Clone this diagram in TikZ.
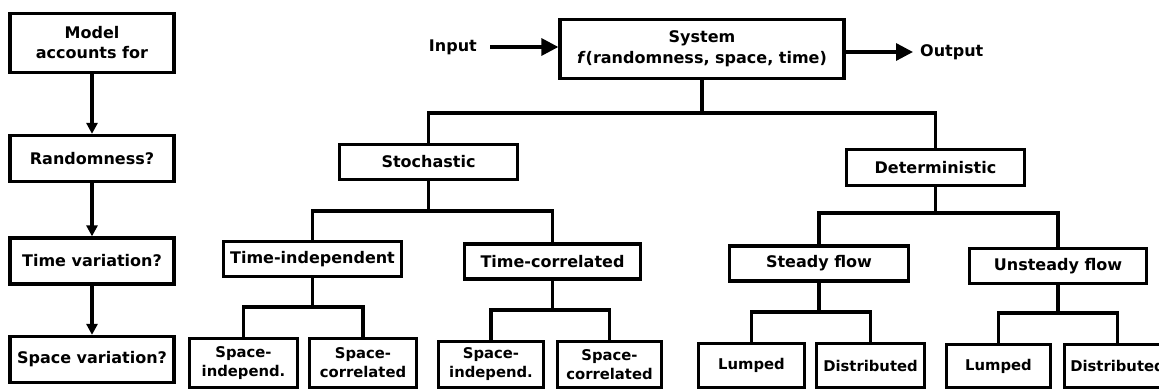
\documentclass[tikz,border=0pt]{standalone}
\usepackage{fontspec}
\setmainfont{DejaVu Sans}
\usetikzlibrary{arrows.meta}
\begin{document}
\begin{tikzpicture}[x=1pt,y=-1pt,
  txt/.style={font=\bfseries\fontsize{16}{20}\selectfont},
  small/.style={font=\bfseries\fontsize{14.8}{19}\selectfont},
  box/.style={draw, line width=3.3pt, align=center, inner sep=0pt, txt},
  sz/.style 2 args={minimum width=#1pt, minimum height=#2pt},
  lbl/.style={txt, inner sep=0pt},
  link/.style={line width=3.3pt},
  arr/.style={line width=3.3pt, -{Triangle[length=11pt,width=11pt]}},
  bigarr/.style={line width=3.3pt, -{Triangle[length=17pt,width=17pt]}},
]
\useasboundingbox (0,0) rectangle (1159,390);
\fill[white] (0,0) rectangle (1159,390);

% left column
\node[box,sz={164}{59}] (model) at (92,43) {Model\\accounts for};
\node[box,sz={164}{46}] (rand) at (92,158.5) {Randomness?};
\node[box,sz={164}{46}] (timev) at (92,261) {Time variation?};
\node[box,sz={164}{46}] (spacev) at (92,359.5) {Space variation?};
\draw[arr] (model.south) -- (rand.north);
\draw[arr] (rand.south) -- (timev.north);
\draw[arr] (timev.south) -- (spacev.north);

% system
\node[box,sz={284}{59},font=\bfseries\fontsize{16}{21}\selectfont] (sys) at (702,49) {System\\\textit{f}(randomness, space, time)};
\node[lbl,anchor=east] (inp) at (477,47) {Input};
\node[lbl,anchor=west] (outp) at (920,52) {Output};
\draw[bigarr] ([xshift=13pt]inp.east) -- (inp.east -| sys.west);
\draw[bigarr] (sys.east |- outp.west) -- ([xshift=-7pt]outp.west);

% level 1
\node[box,sz={178}{35}] (stoch) at (428.5,162) {Stochastic};
\node[box,sz={178}{36}] (determ) at (935.5,167.5) {Deterministic};
\coordinate (j1) at (702,113);
\draw[link] (sys.south) -- (j1);
\draw[link] (stoch.north) |- (j1) -| (determ.north);

% level 2
\node[box,sz={178}{35}] (timeind) at (312.5,259) {Time-independent};
\node[box,sz={176}{35}] (timecor) at (552.5,261.5) {Time-correlated};
\node[box,sz={179}{35}] (steady) at (819,263.5) {Steady flow};
\node[box,sz={177}{35}] (unsteady) at (1058,266) {Unsteady flow};
\coordinate (j2) at (428.5,211);
\coordinate (j3) at (935.5,213);
\draw[link] (stoch.south) -- (j2);
\draw[link] (timeind.north) |- (j2) -| (timecor.north);
\draw[link] (determ.south) -- (j3);
\draw[link] (steady.north) |- (j3) -| (unsteady.north);

% level 3
\node[box,small,sz={108}{49}] (sind1) at (243.5,363) {Space-\\independ.};
\node[box,small,sz={107}{49}] (scor1) at (363,363) {Space-\\correlated};
\node[box,small,sz={105}{46}] (sind2) at (491,364.5) {Space-\\independ.};
\node[box,small,sz={104}{46}] (scor2) at (609.5,364.5) {Space-\\correlated};
\node[box,small,sz={106}{44}] (lump1) at (751.5,365.5) {Lumped};
\node[box,small,sz={108}{44}] (dist1) at (870.5,365.5) {Distributed};
\node[box,small,sz={104}{43}] (lump2) at (998.5,366) {Lumped};
\node[box,small,sz={106}{43}] (dist2) at (1117.5,366) {Distributed};

\coordinate (j4) at (312.5,307);
\coordinate (j5) at (552.5,310);
\coordinate (j6) at (819,312);
\coordinate (j7) at (1058,313);
\draw[link] (timeind.south) -- (j4);
\draw[link] (sind1.north) |- (j4) -| (scor1.north);
\draw[link] (timecor.south) -- (j5);
\draw[link] (sind2.north) |- (j5) -| (scor2.north);
\draw[link] (steady.south) -- (j6);
\draw[link] (lump1.north) |- (j6) -| (dist1.north);
\draw[link] (unsteady.south) -- (j7);
\draw[link] (lump2.north) |- (j7) -| (dist2.north);
\end{tikzpicture}
\end{document}
